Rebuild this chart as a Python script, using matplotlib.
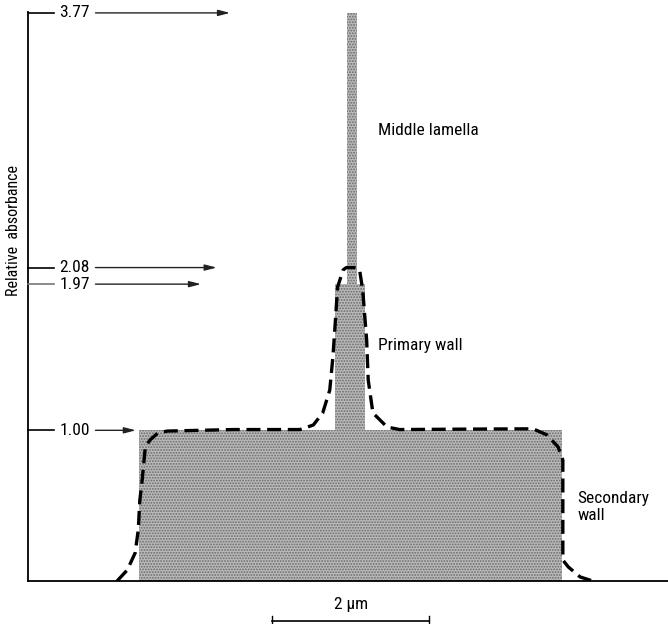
import matplotlib
matplotlib.use("Agg")
import matplotlib.pyplot as plt
from matplotlib import font_manager

# Prefer a narrow sans face for the labels
_names = {f.name for f in font_manager.fontManager.ttflist}
label_family = 'Roboto'
label_stretch = 'normal'
for cand in ('Liberation Sans Narrow', 'Roboto Condensed', 'Open Sans Condensed',
             'DejaVu Sans Condensed', 'Noto Sans Condensed'):
    if cand in _names:
        label_family = cand
        break
else:
    for f in font_manager.fontManager.ttflist:
        if f.name == 'DejaVu Sans' and str(f.stretch) in ('condensed', 'semi-condensed'):
            label_family = 'DejaVu Sans'
            label_stretch = f.stretch
            break

plt.rcParams['font.family'] = [label_family, 'DejaVu Sans']
plt.rcParams['font.stretch'] = label_stretch
plt.rcParams['hatch.linewidth'] = 0.9

# Layers of the cell wall: (left edge, right edge) in µm and relative absorbance
layer_names = ["Secondary wall", "Primary wall", "Middle lamella"]
layer_left = [-2.70, -0.20, -0.05]
layer_right = [2.69, 0.18, 0.08]
layer_absorbance = [1.00, 1.97, 3.77]

# Measured absorbance profile across the wall (dashed trace)
profile_x = [-2.98, -2.85, -2.75, -2.71, -2.69, -2.66, -2.64, -2.62, -2.56, -2.46,
             -2.34, -1.50, -0.65, -0.48, -0.36, -0.27, -0.23, -0.20, -0.17, -0.10,
             -0.06, 0.06, 0.11, 0.15, 0.20, 0.22, 0.28, 0.46, 0.62, 1.50,
             2.32, 2.50, 2.64, 2.70, 2.70, 2.77, 2.92, 3.08]
profile_y = [0.00, 0.073, 0.186, 0.338, 0.537, 0.670, 0.780, 0.889, 0.936, 0.982,
             0.995, 1.005, 1.005, 1.035, 1.115, 1.267, 1.486, 1.712, 1.951, 2.064,
             2.08, 2.08, 2.064, 1.931, 1.599, 1.334, 1.115, 1.022, 1.005, 1.008,
             1.010, 0.969, 0.889, 0.803, 0.139, 0.093, 0.027, 0.00]

# Value labels on the absorbance axis and where their arrows point (µm)
level_values = [3.77, 2.08, 1.97, 1.00]
level_labels = ["3.77", "2.08", "1.97", "1.00"]
arrow_tips = [-1.54, -1.71, -1.91, -2.74]

scale_bar_um = 2.0
fs = 12.5 if label_family != 'Roboto' else 12

fig = plt.figure(figsize=(6.68, 6.24), dpi=100)
ax = fig.add_axes([28 / 668, 43 / 624, 640 / 668, 569 / 624])
ax.set_xlim(-4.115, 4.04)
ax.set_ylim(0, 3.776)

# Shaded step profile of the layers
for left, right, h in zip(layer_left, layer_right, layer_absorbance):
    ax.bar(left, h, width=right - left, align='edge', color='#bababa',
           edgecolor='#6a6a6a', hatch='......', linewidth=0, zorder=1)

# Dashed measured trace
ax.plot(profile_x, profile_y, color='black', lw=2.4,
        linestyle=(0, (4.2, 2.0)), zorder=3, solid_joinstyle='round')

# Axes frame: only left and bottom lines
for side in ('top', 'right'):
    ax.spines[side].set_visible(False)
ax.spines['left'].set_linewidth(1.3)
ax.spines['bottom'].set_linewidth(1.3)
ax.set_xticks([])
ax.set_yticks([])

x0 = ax.get_xlim()[0]
for val, lab, tip in zip(level_values, level_labels, arrow_tips):
    tick_col = '#777777' if lab == "1.97" else 'black'
    ax.plot([x0, x0 + 0.33], [val, val], color=tick_col, lw=1.2,
            clip_on=False, zorder=4)
    ax.text(x0 + 0.40, val, lab, ha='left', va='center', fontsize=fs,
            zorder=4)
    ax.annotate("", xy=(tip, val), xytext=(x0 + 0.86, val),
                arrowprops=dict(arrowstyle='-|>,head_length=0.7,head_width=0.18',
                                color='#222222', lw=1.0, shrinkA=0, shrinkB=0),
                annotation_clip=False, zorder=4)

# Layer labels
ax.text(0.344, 2.99, "Middle lamella", ha='left', va='center', fontsize=fs)
ax.text(0.344, 1.566, "Primary wall", ha='left', va='center', fontsize=fs)
ax.text(2.89, 0.49, "Secondary\nwall", ha='left', va='center', fontsize=fs,
        linespacing=1.15)

# Scale bar
sb_y = -0.265
ax.plot([-scale_bar_um / 2, scale_bar_um / 2], [sb_y, sb_y], color='black',
        lw=1.2, clip_on=False)
for xe in (-scale_bar_um / 2, scale_bar_um / 2):
    ax.plot([xe, xe], [sb_y - 0.03, sb_y + 0.03], color='black', lw=1.0,
            clip_on=False)
ax.text(0.0, sb_y + 0.06, f"{scale_bar_um:.0f} µm", ha='center', va='bottom',
        fontsize=fs)

fig.text(14 / 668, 1 - 230 / 624, "Relative  absorbance", rotation=90,
         ha='center', va='center', fontsize=fs - 1)

fig.savefig("out.png", dpi=100, facecolor='white')
